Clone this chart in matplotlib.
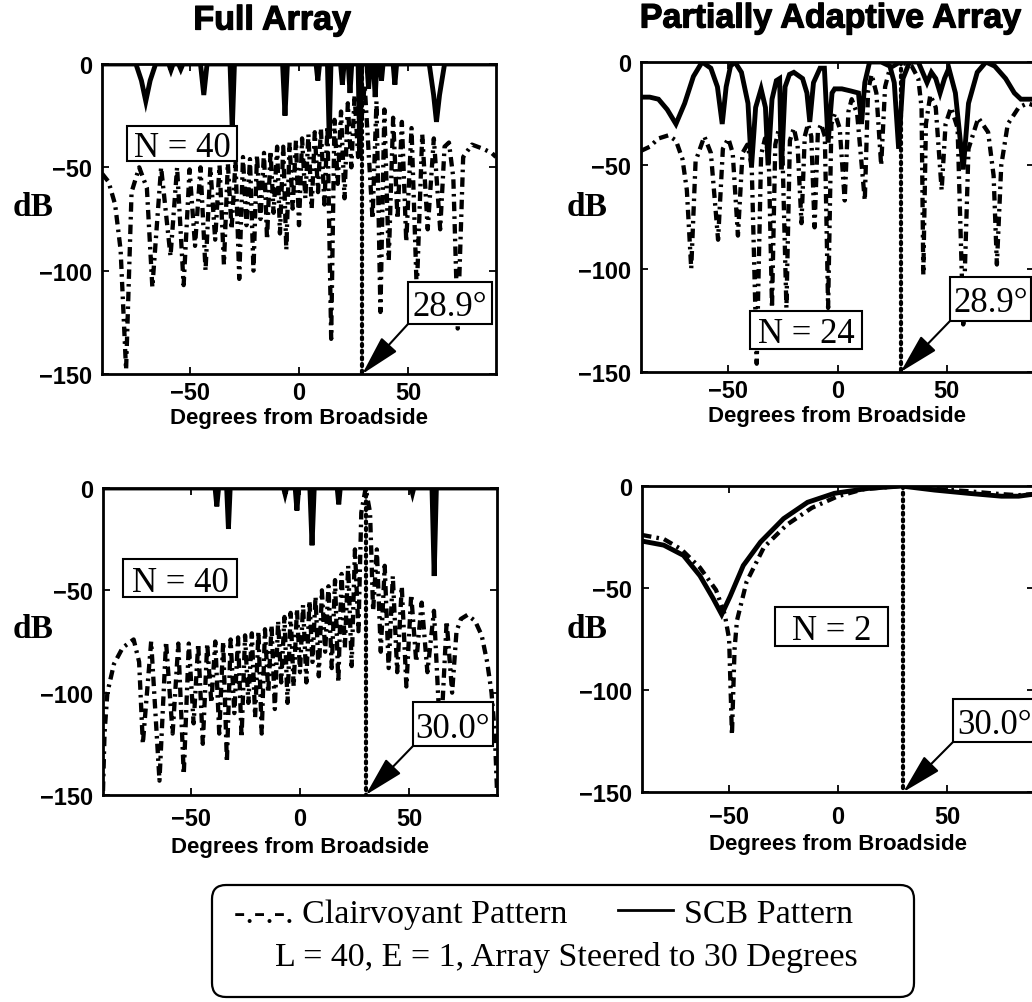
import matplotlib
matplotlib.use("Agg")
import matplotlib.pyplot as plt
import matplotlib.patheffects as pe
from matplotlib.patches import FancyBboxPatch, Rectangle
from matplotlib.lines import Line2D

SANS = "Liberation Sans"
SERIF = "Liberation Serif"

# ---- data: (degrees from broadside, dB) ----
# Full array, N = 40, steered estimate 28.9 deg
tl_cv = [
    (-90, -53), (-87, -57), (-84, -68), (-81.5, -90), (-79, -148),
    (-76.5, -62), (-73, -50), (-69.5, -60), (-67, -108),
    (-63, -50), (-58.7, -93), (-55.7, -50), (-52.7, -107),
    (-50, -51), (-47.5, -88), (-45, -50), (-42.7, -100),
    (-40.5, -50), (-38.3, -85), (-36.3, -49), (-34.3, -97),
    (-32.5, -48), (-30.8, -80), (-29, -47), (-27.3, -104),
    (-25.6, -45), (-24, -78), (-22.4, -46), (-20.8, -100),
    (-19.2, -44), (-17.6, -75), (-16, -43), (-14.6, -85),
    (-13, -42), (-11.6, -72), (-10, -40), (-8.7, -82),
    (-7.2, -40), (-5.8, -90), (-4.3, -38), (-2.9, -70),
    (-1.4, -37), (0, -78), (1.4, -36), (2.9, -65),
    (4.3, -34), (5.8, -70), (7.2, -33), (8.7, -62),
    (10, -31), (11.6, -68), (13, -30), (14.7, -133),
    (16.2, -27), (17.7, -58), (19.2, -23), (20.8, -65),
    (22.3, -19), (23.9, -50), (25.4, -15), (27, -45),
    (30, -10), (33.6, -75), (35.4, -18), (37.2, -120),
    (39, -22), (41, -95), (43, -26), (45, -75),
    (47, -28), (49, -86), (51.4, -31), (53.8, -110),
    (56.3, -34), (58.8, -80), (61.6, -36), (64.5, -80),
    (66.5, -40), (68.5, -38), (70.5, -55), (72.5, -128),
    (75, -45), (79, -39), (84, -41), (88, -43), (90, -45),
]
tl_scb = [
    (-90, 0), (-74.5, 0), (-72, -8), (-70, -18), (-68, -8), (-65.5, 0),
    (-59.5, 0), (-58.5, -3), (-57.5, 0), (-55, 0), (-54, -2.5), (-53, 0),
    (-45, 0), (-43.5, -15), (-42, 0), (-31.5, 0), (-30.5, -32), (-29.5, 0),
    (-7.5, 0), (-6.4, -25), (-5.3, 0), (7.8, 0), (8.6, -8), (9.4, 0),
    (13, 0), (13.8, -36), (14.6, 0), (19, 0), (19.8, -10), (20.6, 0),
    (22.5, 0), (23.3, -14), (24.1, 0), (27, 0), (27.8, -45), (28.6, 0),
    (31, 0), (31.8, -12), (32.6, 0), (34, 0), (34.8, -16), (35.6, 0),
    (37, 0), (37.7, -8), (38.4, 0), (43, 0), (43.8, -10), (44.6, 0),
    (59.5, 0), (61.5, -15), (62.8, -28), (64.2, -15), (66.5, 0), (90, 0),
]

# Partially adaptive array, N = 24, steered estimate 28.9 deg
tr_cv = [
    (-90, -43), (-86, -41), (-82, -37), (-77.5, -35.5), (-74, -38),
    (-71, -47), (-69, -62), (-67, -100),
    (-65, -48), (-61, -36), (-58, -44), (-54.7, -86),
    (-52.5, -42), (-50, -37), (-48, -44), (-45.6, -84),
    (-43.5, -44), (-41.3, -40), (-39.3, -50), (-37, -146),
    (-35, -45), (-33.2, -37), (-31.5, -45), (-30, -119),
    (-28.5, -40), (-27, -33), (-25.3, -40), (-23.4, -119),
    (-21.8, -38), (-20, -32), (-18.3, -40), (-16.5, -78),
    (-15, -36), (-13.5, -30), (-12, -36), (-10.5, -80),
    (-9, -34), (-7.5, -30), (-5.8, -36), (-4.3, -119),
    (-2.8, -30), (-1.2, -25), (1, -32), (3.3, -67),
    (5, -24), (6.5, -18), (9, -25), (12.5, -67),
    (14, -14), (15.6, -6), (17.8, -15), (20, -50),
    (21.8, -12), (24, -3), (28.9, 0), (34, -2), (37, -8), (38.5, -22),
    (39.3, -103), (40.5, -30), (42.5, -16), (45, -22), (47.7, -62),
    (49.5, -30), (52, -22), (55, -32), (57.6, -127),
    (60, -42), (64.5, -27), (69, -34), (71.5, -55), (73, -98),
    (75, -50), (78, -30), (83, -22), (87, -20), (90, -21),
]
tr_scb = [
    (-90, -17), (-86, -17), (-82, -18), (-78, -23), (-74, -30), (-70, -20),
    (-66, -7), (-62, 0), (-58, -3), (-55, -12), (-52.8, -30), (-51, -12),
    (-49, -2), (-47, 0), (-44, -5), (-41, -20), (-39.4, -51), (-37.5, -22),
    (-35, -13), (-33, -22), (-31.8, -50), (-30, -18), (-28, -9), (-26.5, -8),
    (-25.7, -52), (-24, -12), (-22, -6), (-20, -5), (-16, -8), (-14, -15),
    (-12.7, -29), (-11, -10), (-8, -3), (-6, -3), (-4.3, -39), (-2.5, -15),
    (-1.3, -13), (2, -13), (6, -14), (9.6, -15), (11, -30), (12.5, -10),
    (14.7, 0), (20, 0), (24, -2), (26, -10), (28, -42), (30, -8), (33, 0),
    (37, 0), (41, -10), (43, -5), (45, -8), (47, -15), (49, -8), (51, -3),
    (54, -15), (57.6, -52), (60, -20), (64, -5), (68, 0), (72, -2),
    (77, -8), (81, -15), (84, -18), (90, -18),
]

# Full array, N = 40, steered estimate 30.0 deg
bl_cv = [
    (-90, -148), (-89.3, -120), (-88, -100), (-85, -86), (-81, -78),
    (-76, -74), (-73.5, -85), (-71.8, -125),
    (-68, -75), (-64.2, -143), (-61.2, -75), (-58.2, -120),
    (-55.6, -76), (-53.1, -140), (-50.8, -76), (-48.6, -115),
    (-46.5, -76), (-44.4, -125), (-42.4, -76), (-40.5, -105),
    (-38.7, -75), (-36.9, -120), (-35.1, -75), (-33.4, -134),
    (-31.7, -74), (-30, -110), (-28.3, -73), (-26.7, -122),
    (-25.1, -72), (-23.6, -105), (-22, -71), (-20.5, -112),
    (-19, -70), (-17.5, -120), (-16, -69), (-14.5, -100),
    (-13, -67), (-11.5, -108), (-10, -65), (-8.6, -95),
    (-7.1, -63), (-5.7, -105), (-4.3, -61), (-2.9, -97),
    (-1.4, -59), (0, -90), (1.4, -57), (2.9, -95),
    (4.3, -55), (5.7, -85), (7.1, -53), (8.6, -92),
    (10, -50), (11.5, -80), (13, -48), (14.5, -88),
    (16, -45), (17.5, -95), (19, -42), (20.5, -78),
    (22, -38), (23.6, -87), (25.1, -30), (26.7, -70),
    (28, -12), (30, 0), (32, -12),
    (33.4, -60), (35.1, -30), (36.9, -80), (38.7, -38),
    (40.5, -88), (42.4, -43), (44.4, -90), (46.5, -48),
    (48.6, -97), (50.8, -52), (53.1, -85), (55.6, -56),
    (58.2, -90), (61.2, -60), (64.2, -125), (67, -65),
    (69.5, -100), (71.5, -70), (73.5, -64), (76.5, -62), (80, -65),
    (83, -72), (85.5, -85), (87.5, -100), (89, -120), (90, -148),
]
bl_scb = [
    (-90, 0), (-38.8, 0), (-38, -9), (-37.2, 0), (-33.5, 0), (-32.7, -20),
    (-31.9, 0), (-7.5, 0), (-6.8, -3), (-6.1, 0), (-2.2, 0), (-1.4, -11),
    (-0.6, 0), (4.5, 0), (5.5, -28), (6.5, 0), (17, 0), (17.7, -8),
    (18.4, 0), (50.8, 0), (51.4, -2.5), (52, 0), (60.3, 0), (61.3, -43),
    (62.3, 0), (90, 0),
]

# Partially adaptive array, N = 2, steered estimate 30.0 deg
br_cv = [
    (-90, -24), (-80, -26), (-72, -31), (-63.4, -40), (-56, -51), (-52, -63),
    (-50, -75), (-48.7, -122), (-47.5, -80), (-46.4, -66), (-42, -47),
    (-34, -30), (-23.5, -19), (-12, -10.7), (0, -5), (12, -1.5), (29, 0),
    (45, -1.5), (59, -2.5), (75, -4), (83, -4.5), (90, -4),
]
br_scb = [
    (-90, -27), (-80, -29), (-71, -34), (-63.4, -44), (-57.4, -55),
    (-53.4, -63), (-49.5, -54), (-43.5, -39), (-35.6, -27.5), (-25, -16),
    (-14, -8), (-1.7, -3.6), (13.7, -1.2), (29, 0), (44.4, -2), (60, -3.6),
    (75, -5), (83, -5), (90, -4),
]

steer_angles = [28.9, 28.9, 30.0, 30.0]
n_labels = ["N = 40", "N = 24", "N = 40", "N = 2"]
angle_labels = ["28.9°", "28.9°", "30.0°", "30.0°"]
col_titles = ["Full Array", "Partially Adaptive Array"]
y_ticks = [0, -50, -100, -150]
x_ticks = [-50, 0, 50]

W, H = 1032, 1003
HEAVY = [pe.withStroke(linewidth=0.9, foreground="black")]


def px_rect(x0, y0, x1, y1):
    return [x0 / W, 1 - y1 / H, (x1 - x0) / W, (y1 - y0) / H]


def label_box(fig, text, x0, y0, x1, y1):
    # white framed box given in pixel coordinates (y from the top)
    fig.add_artist(Rectangle((x0 / W, 1 - y1 / H), (x1 - x0) / W, (y1 - y0) / H,
                             transform=fig.transFigure, fc="white", ec="black",
                             lw=1.5, zorder=5))
    fig.text((x0 + x1) / 2 / W, 1 - (y0 + y1) / 2 / H, text, ha="center",
             va="center_baseline", fontsize=25, family=SERIF, zorder=6)


def draw_panel(ax, cv, scb, steer, bottom_row):
    cx, cy = zip(*cv)
    sx, sy = zip(*scb)
    ax.plot(cx, cy, color="black", lw=3.1, linestyle=(0, (2.2, 1.2, 0.6, 1.2)),
            dash_capstyle="butt", zorder=2)
    ax.plot(sx, sy, color="black", lw=3.5, solid_joinstyle="miter", zorder=3)
    ax.plot([steer, steer], [0, -150], color="black", lw=3.0,
            linestyle=(0, (0.5, 1.1)), dash_capstyle="round", zorder=4)

    ax.set_xlim(-90, 90)
    ax.set_ylim(-150, 0)
    ax.set_xticks(x_ticks)
    ax.set_yticks(y_ticks)
    ax.tick_params(direction="in", length=5, width=1.3, top=True, right=True,
                   labelsize=17)
    ax.tick_params(axis="y", pad=7)
    ax.tick_params(axis="x", pad=9 if bottom_row else 5)
    for lab in ax.get_xticklabels() + ax.get_yticklabels():
        lab.set_fontweight("bold")
        lab.set_family(SANS)
    for sp in ax.spines.values():
        sp.set_linewidth(2.0)
    ax.set_xlabel("Degrees from Broadside", fontsize=16, fontweight="bold",
                  family=SANS, labelpad=4 if bottom_row else 2)


def main():
    fig = plt.figure(figsize=(W / 100, H / 100), dpi=100)

    rects = [
        px_rect(102, 65, 496, 375),
        px_rect(641, 63, 1034, 373),
        px_rect(103, 489, 497, 796),
        px_rect(642, 487, 1034, 793),
    ]
    series = [(tl_cv, tl_scb), (tr_cv, tr_scb), (bl_cv, bl_scb), (br_cv, br_scb)]
    n_boxes = [(127, 127, 237, 162), (750, 312, 862, 350),
               (123, 560, 237, 598), (775, 608, 888, 647)]
    ang_boxes = [(408, 283, 492, 325), (950, 278, 1031, 322),
                 (413, 703, 493, 747), (953, 700, 1036, 743)]

    for i in range(4):
        ax = fig.add_axes(rects[i])
        cv, scb = series[i]
        draw_panel(ax, cv, scb, steer_angles[i], i >= 2)
        label_box(fig, n_labels[i], *n_boxes[i])
        bx0, by0, bx1, by1 = ang_boxes[i]
        label_box(fig, angle_labels[i], *ang_boxes[i])
        ax.annotate("", xy=(steer_angles[i], -150),
                    xytext=(bx0 / W, 1 - by1 / H), textcoords="figure fraction",
                    annotation_clip=False, zorder=6,
                    arrowprops=dict(arrowstyle="-|>,head_length=1.0,head_width=0.26",
                                    mutation_scale=25, fc="black", ec="black",
                                    lw=1.5, shrinkA=0, shrinkB=0))

    fig.text(272 / W, 1 - 22 / H, col_titles[0], ha="center", va="center",
             fontsize=24.5, fontweight="bold", family=SANS, path_effects=HEAVY)
    fig.text(830 / W, 1 - 20 / H, col_titles[1], ha="center", va="center",
             fontsize=24.5, fontweight="bold", family=SANS, path_effects=HEAVY)

    for x, y in [(33, 208), (587, 208), (33, 630), (587, 630)]:
        fig.text(x / W, 1 - y / H, "dB", ha="center", va="center", fontsize=24,
                 fontweight="bold", family=SERIF)

    # legend box at the bottom
    box = FancyBboxPatch((2.12, 0.05), 7.02, 1.12,
                         boxstyle="round,pad=0,rounding_size=0.14",
                         transform=fig.dpi_scale_trans, fc="white", ec="black",
                         lw=1.6)
    fig.patches.append(box)
    fig.text(234 / W, 1 - 915 / H, "-.-.-. Clairvoyant Pattern", ha="left",
             va="center", fontsize=24.5, family=SERIF)
    fig.lines.append(Line2D([618 / W, 673 / W], [1 - 911 / H, 1 - 911 / H],
                            transform=fig.transFigure, color="black", lw=2.0))
    fig.text(684 / W, 1 - 915 / H, "SCB Pattern", ha="left", va="center",
             fontsize=24.5, family=SERIF)
    fig.text(566 / W, 1 - 958 / H, "L = 40, E = 1, Array Steered to 30 Degrees",
             ha="center", va="center", fontsize=24.5, family=SERIF)

    fig.savefig("out.png", dpi=100)


if __name__ == "__main__":
    main()
